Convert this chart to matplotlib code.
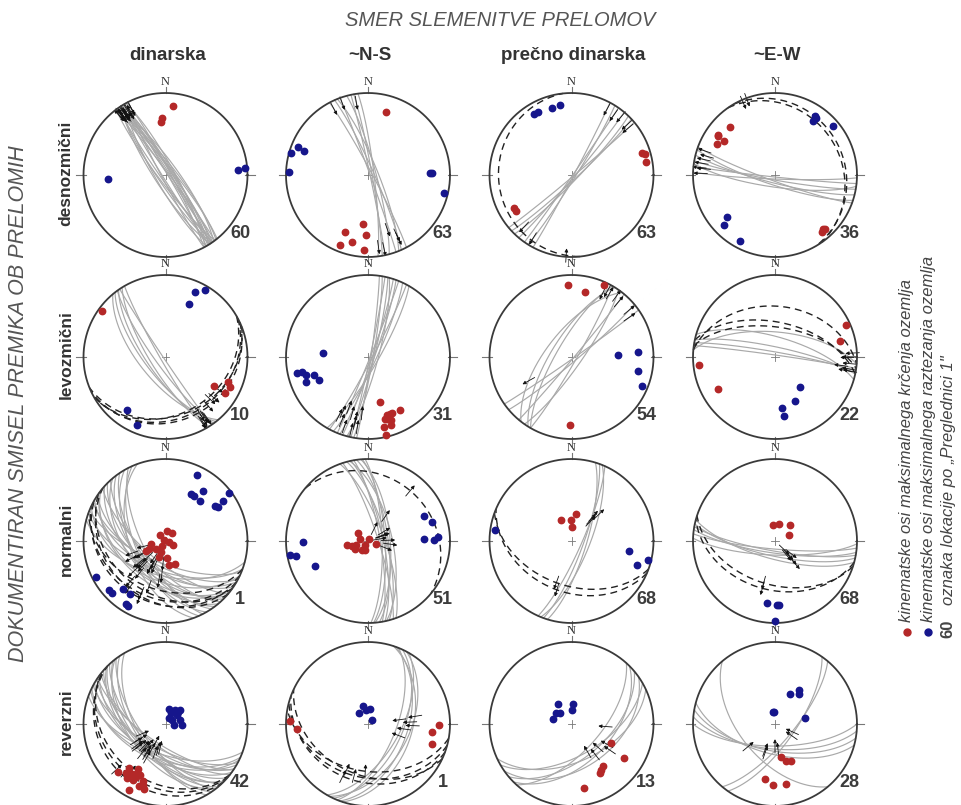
import numpy as np
import matplotlib.pyplot as plt

W, H = 961, 805

# panel layout (pixels): column / row centres and net radius
col_x = [165.5, 368, 571.5, 775]
row_y = [175, 357, 541, 724]
R = 82

col_names = ['dinarska', '~N-S', 'prečno dinarska', '~E-W']
row_names = ['desnozmični', 'levozmični', 'normalni', 'reverzni']
site_labels = [[60, 63, 63, 36], [10, 31, 54, 22], [1, 51, 68, 68], [42, 1, 13, 28]]

# faults: (strike RHR, dip, rake) ; axes: (trend, plunge)
# row 1 - desnozmicni
des_din_gc = [(325, 84, 170), (327, 86, 168), (322, 80, 172), (330, 88, 165), (328, 82, 170),
              (145, 85, -170), (148, 87, -168), (143, 83, -172), (150, 80, -165), (324, 78, 168),
              (332, 85, 171), (326, 88, 166), (146, 82, -170), (329, 84, 169), (323, 87, 167),
              (152, 86, -168), (321, 82, 170), (147, 79, -166), (331, 81, 168), (326, 83, 171)]
des_din_dash = []
des_din_red = [(6, 16), (356, 31), (355, 35)]
des_din_blue = [(266, 30), (86, 12), (85, 3)]

des_ns_gc = [(332, 86, 170), (336, 84, -165), (340, 88, 172), (345, 82, -150),
             (350, 86, 168), (353, 84, -168), (338, 80, -160), (348, 88, -172)]
des_ns_dash = []
des_ns_red = [(16, 21), (186, 40), (202, 26), (182, 28), (193, 17), (202, 9), (183, 9)]
des_ns_blue = [(286, 2), (292, 9), (291, 18), (272, 4), (88, 25), (88, 23), (103, 5)]

des_pre_gc = [(28, 88, 170), (32, 86, -170), (35, 89, 168), (40, 87, 172),
              (47, 85, 170), (50, 88, 168), (44, 84, -165)]
des_pre_dash = [(174, 12, 170)]
des_pre_red = [(73, 11), (74, 7), (80, 8), (240, 20), (237, 21)]
des_pre_blue = [(328, 14), (332, 14), (344, 16), (351, 15)]

des_ew_gc = [(100, 85, -170), (104, 82, -168), (96, 88, -172), (108, 80, -165),
             (92, 86, -170), (110, 84, -170), (98, 78, -166)]
des_ew_dash = [(330, 16, 170), (325, 20, 168)]
des_ew_red = [(317, 21), (305, 16), (304, 17), (304, 26), (298, 21), (138, 13), (137, 11), (140, 11)]
des_ew_blue = [(34, 14), (36, 15), (35, 21), (50, 8), (229, 23), (226, 14), (208, 9)]

# row 2 - levozmicni
lev_din_gc = [(144, 80, -10), (146, 88, -12), (142, 70, -15), (148, 75, -8),
              (150, 85, -10), (140, 65, -20), (145, 72, -12)]
lev_din_dash = [(62, 25, -70), (60, 30, -65), (65, 22, -75), (68, 28, -68)]
lev_din_red = [(306, 4), (121, 32), (112, 19), (115, 14), (121, 17)]
lev_din_blue = [(24, 14), (31, 6), (24, 30), (216, 21), (203, 11)]

lev_ns_gc = [(10, 85, 15), (12, 88, 25), (15, 80, 20), (18, 86, 30), (20, 84, 12), (22, 88, 35),
             (25, 82, 18), (28, 86, 22), (30, 80, 28), (14, 84, 10), (8, 87, 32)]
lev_ns_dash = []
lev_ns_red = [(165, 43), (159, 26), (162, 27), (157, 27), (149, 26), (165, 23),
              (161, 14), (167, 14), (167, 3), (160, 20), (163, 22)]
lev_ns_blue = [(275, 44), (257, 12), (257, 19), (254, 23), (248, 20), (252, 31), (245, 35)]

lev_pre_gc = [(30, 85, -10), (35, 80, -8), (40, 88, -12), (50, 85, -10), (55, 88, -15),
              (212, 70, 10), (210, 75, 15), (218, 65, -45)]
lev_pre_dash = []
lev_pre_red = [(357, 13), (12, 20), (24, 4), (181, 18)]
lev_pre_blue = [(87, 43), (86, 20), (102, 18), (112, 8)]

lev_ew_gc = [(280, 85, 10), (286, 70, 15), (275, 65, 12), (282, 80, 8), (278, 88, 20)]
lev_ew_dash = [(275, 38, 10), (278, 60, 15), (282, 55, 12)]
lev_ew_red = [(66, 6), (76, 19), (264, 8), (241, 21)]
lev_ew_blue = [(140, 51), (156, 41), (172, 37), (171, 28)]

# row 3 - normalni
nor_din_gc = [(105, 55, -85), (110, 60, -95), (115, 50, -80), (118, 65, -90), (120, 58, -100),
              (124, 62, -85), (126, 48, -92), (130, 70, -88), (132, 55, -95), (135, 60, -82),
              (138, 66, -90), (140, 52, -98), (143, 58, -86), (146, 63, -92), (150, 57, -80),
              (153, 68, -95), (156, 60, -88), (160, 54, -90), (112, 68, -84), (128, 45, -96)]
nor_din_dash = [(115, 30, -90), (120, 25, -85), (125, 35, -95), (110, 40, -90), (130, 28, -88)]
nor_din_red = [(10, 80), (315, 82), (42, 80), (300, 88), (105, 86), (119, 81), (219, 84), (244, 72),
               (228, 78), (243, 68), (201, 73), (174, 73), (172, 66), (157, 65), (200, 78), (260, 75)]
nor_din_blue = [(26, 12), (29, 35), (32, 35), (37, 25), (41, 36), (53, 4), (55, 15), (55, 27),
                (57, 25), (243, 5), (229, 9), (226, 10), (222, 23), (214, 23), (212, 11), (210, 10)]

nor_ns_gc = [(345, 72, -85), (350, 78, -90), (355, 68, -95), (342, 80, -80), (348, 75, -88),
             (352, 70, -92), (358, 76, -85), (340, 74, -90), (347, 66, -70), (356, 73, -98)]
nor_ns_dash = [(310, 21, -90)]
nor_ns_red = [(259, 69), (253, 73), (250, 77), (238, 75), (283, 82), (307, 77),
              (211, 85), (215, 79), (30, 88), (110, 82), (200, 80)]
nor_ns_blue = [(269, 22), (260, 4), (258, 11), (245, 30), (66, 26), (73, 20), (88, 32), (89, 21), (87, 16)]

nor_pre_gc = [(17, 75, -60), (20, 78, -65), (22, 72, -55), (24, 80, -62)]
nor_pre_dash = [(110, 45, -90), (113, 38, -85)]
nor_pre_red = [(333, 67), (358, 69), (9, 63), (4, 76)]
nor_pre_blue = [(278, 6), (100, 30), (110, 16), (104, 4)]

nor_ew_gc = [(98, 78, -75), (102, 75, -70), (95, 82, -80), (105, 72, -65), (100, 80, -72), (92, 76, -78)]
nor_ew_dash = [(105, 40, -90), (108, 46, -88)]
nor_ew_red = [(354, 74), (15, 73), (43, 68), (68, 75)]
nor_ew_blue = [(187, 25), (178, 23), (176, 23), (180, 3)]

# row 4 - reverzni
rev_din_gc = [(110, 60, 90), (114, 55, 85), (118, 65, 95), (120, 58, 88), (123, 62, 92), (126, 56, 80),
              (128, 68, 100), (131, 60, 90), (134, 54, 86), (137, 64, 94), (140, 58, 90), (143, 66, 84),
              (146, 60, 96), (150, 62, 90), (116, 52, 88), (124, 70, 92), (135, 57, 82), (142, 53, 98)]
rev_din_dash = [(130, 25, 90), (128, 30, 92), (135, 20, 88)]
rev_din_red = [(225, 19), (219, 24), (220, 31), (214, 28), (212, 36), (209, 27), (215, 20), (210, 22),
               (206, 31), (201, 26), (198, 18), (203, 19), (209, 9), (200, 22), (210, 31)]
rev_din_blue = [(14, 75), (34, 73), (47, 73), (29, 78), (53, 76), (58, 82), (76, 75),
                (93, 74), (96, 82), (30, 83), (47, 70)]

rev_ns_gc = [(20, 50, 105), (25, 55, 100), (18, 45, 110), (30, 58, 95), (22, 62, 105), (28, 48, 108)]
rev_ns_dash = [(105, 35, 90), (110, 30, 85), (100, 42, 95), (115, 38, 90)]
rev_ns_red = [(272, 6), (266, 14), (91, 15), (97, 22), (107, 19)]
rev_ns_blue = [(345, 71), (320, 76), (353, 76), (7, 75), (45, 85)]

rev_pre_gc = [(45, 50, 100), (50, 55, 95), (55, 45, 105), (60, 58, 90), (42, 62, 110), (65, 52, 98)]
rev_pre_dash = []
rev_pre_red = [(116, 45), (123, 25), (143, 36), (150, 32), (147, 34), (169, 22)]
rev_pre_blue = [(327, 66), (5, 70), (306, 71), (315, 74), (284, 71), (0, 76)]

rev_ew_gc = [(95, 65, 95), (100, 63, 85), (90, 68, 90), (105, 60, 88), (40, 72, 95), (35, 70, 90), (140, 55, 90)]
rev_ew_dash = []
rev_ew_red = [(169, 56), (164, 51), (157, 49), (190, 32), (182, 27), (170, 27)]
rev_ew_blue = [(26, 56), (36, 48), (39, 51), (351, 78), (355, 78), (78, 59)]

panels = [
    [(des_din_gc, des_din_dash, des_din_red, des_din_blue), (des_ns_gc, des_ns_dash, des_ns_red, des_ns_blue),
     (des_pre_gc, des_pre_dash, des_pre_red, des_pre_blue), (des_ew_gc, des_ew_dash, des_ew_red, des_ew_blue)],
    [(lev_din_gc, lev_din_dash, lev_din_red, lev_din_blue), (lev_ns_gc, lev_ns_dash, lev_ns_red, lev_ns_blue),
     (lev_pre_gc, lev_pre_dash, lev_pre_red, lev_pre_blue), (lev_ew_gc, lev_ew_dash, lev_ew_red, lev_ew_blue)],
    [(nor_din_gc, nor_din_dash, nor_din_red, nor_din_blue), (nor_ns_gc, nor_ns_dash, nor_ns_red, nor_ns_blue),
     (nor_pre_gc, nor_pre_dash, nor_pre_red, nor_pre_blue), (nor_ew_gc, nor_ew_dash, nor_ew_red, nor_ew_blue)],
    [(rev_din_gc, rev_din_dash, rev_din_red, rev_din_blue), (rev_ns_gc, rev_ns_dash, rev_ns_red, rev_ns_blue),
     (rev_pre_gc, rev_pre_dash, rev_pre_red, rev_pre_blue), (rev_ew_gc, rev_ew_dash, rev_ew_red, rev_ew_blue)],
]

RED = '#b42828'
BLUE = '#16168c'
GREY_TXT = '#555555'
NARROW = ['Liberation Sans Narrow', 'Liberation Sans', 'DejaVu Sans']
SANS = ['Liberation Sans', 'DejaVu Sans']


# lower hemisphere equal-area (Schmidt) projection
def proj(trend, plunge):
    t = np.radians(trend)
    p = np.radians(plunge)
    r = np.sqrt(2) * np.sin((np.pi / 2 - p) / 2)
    return r * np.sin(t), r * np.cos(t)


def plane_vecs(strike, dip):
    s = np.radians(strike)
    dd = s + np.pi / 2
    d = np.radians(dip)
    sv = np.array([np.sin(s), np.cos(s), 0.0])
    dv = np.array([np.sin(dd) * np.cos(d), np.cos(dd) * np.cos(d), np.sin(d)])
    return sv, dv


def great_circle(strike, dip):
    sv, dv = plane_vecs(strike, dip)
    a = np.linspace(0, np.pi, 181)
    v = np.outer(np.cos(a), sv) + np.outer(np.sin(a), dv)
    pl = np.degrees(np.arcsin(np.clip(v[:, 2], -1, 1)))
    tr = np.degrees(np.arctan2(v[:, 0], v[:, 1]))
    return proj(tr, pl)


def slip(strike, dip, rake):
    sv, dv = plane_vecs(strike, dip)
    lam = np.radians(rake)
    u = np.cos(lam) * sv - np.sin(lam) * dv  # hanging wall movement
    ax_ = u if u[2] >= 0 else -u
    x, y = proj(np.degrees(np.arctan2(ax_[0], ax_[1])), np.degrees(np.arcsin(np.clip(ax_[2], -1, 1))))
    h = np.hypot(u[0], u[1])
    return x, y, u[0] / h, u[1] / h


def draw_arrow(ax, strike, dip, rake):
    x, y, ux, uy = slip(strike, dip, rake)
    L = 0.17
    ax.annotate('', xy=(x + ux * L / 2, y + uy * L / 2), xytext=(x - ux * L / 2, y - uy * L / 2),
                arrowprops=dict(arrowstyle='-|>', lw=0.6, color='#111111', mutation_scale=5,
                                shrinkA=0, shrinkB=0), zorder=4)


fig = plt.figure(figsize=(W / 100, H / 100), dpi=100)

# overlay in pixel coords for the texts
bg = fig.add_axes([0, 0, 1, 1])
bg.set_xlim(0, W)
bg.set_ylim(H, 0)
bg.axis('off')

bg.text(500, 20, 'SMER SLEMENITVE PRELOMOV', ha='center', va='center', fontsize=14.5,
        style='italic', color=GREY_TXT, family=SANS)
for cx, name in zip(col_x, col_names):
    bg.text(cx + 2, 55, name, ha='center', va='center', fontsize=13.5, weight='bold',
            color='#333333', family=NARROW)
bg.text(19, 404, 'DOKUMENTIRAN SMISEL PREMIKA OB PRELOMIH', ha='center', va='center', rotation=90,
        fontsize=15.5, style='italic', color=GREY_TXT, family=SANS)
for cy, name in zip(row_y, row_names):
    bg.text(66, cy - 2, name, ha='center', va='center', rotation=90, fontsize=12.5, weight='bold',
            color='#333333', family=NARROW)

# legend
bg.plot([907], [632], 'o', color=RED, ms=5)
bg.plot([928], [632], 'o', color=BLUE, ms=5)
bg.text(907, 622, 'kinematske osi maksimalnega krčenja ozemlja', rotation=90, ha='center', va='bottom',
        fontsize=12, style='italic', color='#444444', family=SANS)
bg.text(928, 622, 'kinematske osi maksimalnega raztezanja ozemlja', rotation=90, ha='center', va='bottom',
        fontsize=12, style='italic', color='#444444', family=SANS)
bg.text(948, 638, '60', rotation=90, ha='center', va='bottom', fontsize=12, weight='bold',
        color='#444444', family=SANS)
bg.text(948, 605, 'oznaka lokacije po „Preglednici 1"', rotation=90, ha='center', va='bottom',
        fontsize=12, style='italic', color='#444444', family=SANS)

hpx = 96
th = np.linspace(0, 2 * np.pi, 361)
for i, cy in enumerate(row_y):
    for j, cx in enumerate(col_x):
        gc, dash, red, blue = panels[i][j]
        ax = fig.add_axes([(cx - hpx) / W, 1 - (cy + hpx) / H, 2 * hpx / W, 2 * hpx / H])
        lim = hpx / R
        ax.set_xlim(-lim, lim)
        ax.set_ylim(-lim, lim)
        ax.axis('off')

        ax.plot(np.cos(th), np.sin(th), color='#3a3a3a', lw=1.3, zorder=5)
        # ticks
        ax.plot([0, 0], [1.0, 1.07], color='#777777', lw=0.8)
        ax.plot([0.97, 1.09], [0, 0], color='#777777', lw=0.8)
        ax.plot([-0.97, -1.09], [0, 0], color='#777777', lw=0.8)
        ax.plot([0, 0], [-0.97, -1.09], color='#777777', lw=0.8)
        ax.plot([-0.045, 0.045], [0, 0], color='#777777', lw=0.6)
        ax.plot([0, 0], [-0.045, 0.045], color='#777777', lw=0.6)
        ax.text(0, 1.135, 'N', ha='center', va='center', fontsize=9, family=['Liberation Serif', 'DejaVu Serif'],
                color='#333333')

        for s, d, rk in gc:
            x, y = great_circle(s, d)
            ax.plot(x, y, color='#a9a9a9', lw=0.85, zorder=2)
        for s, d, rk in dash:
            x, y = great_circle(s, d)
            ax.plot(x, y, color='#222222', lw=1.0, ls=(0, (5, 3.5)), zorder=3)
        for s, d, rk in gc + dash:
            draw_arrow(ax, s, d, rk)

        if red:
            x, y = proj(np.array([p[0] for p in red]), np.array([p[1] for p in red]))
            ax.plot(x, y, 'o', color=RED, ms=4.6, mec=RED, zorder=6)
        if blue:
            x, y = proj(np.array([p[0] for p in blue]), np.array([p[1] for p in blue]))
            ax.plot(x, y, 'o', color=BLUE, ms=4.6, mec=BLUE, zorder=6)

        ax.text(0.91, -0.71, str(site_labels[i][j]), ha='center', va='center', fontsize=13,
                weight='bold', color='#3c3c3c', family=SANS, zorder=7)

fig.savefig('out.png', dpi=100)
